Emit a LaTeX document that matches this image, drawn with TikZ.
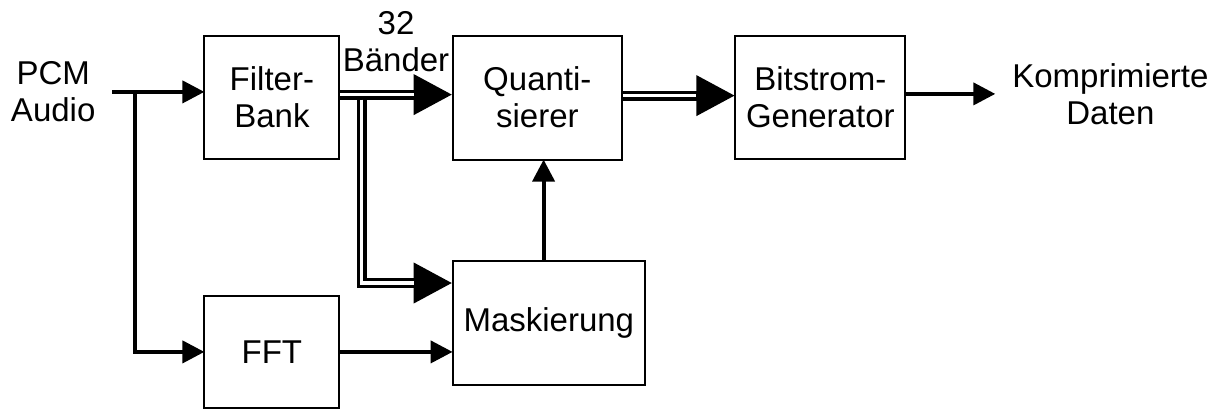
\documentclass[tikz,border=0pt]{standalone}
\usepackage{fontspec}
\setmainfont{Liberation Sans}
\usetikzlibrary{arrows.meta, positioning}

\begin{document}
\begin{tikzpicture}[font=\fontsize{16.5pt}{18.5pt}\selectfont, node distance=56.6pt,
  block/.style={draw, line width=1pt, outer sep=0pt, inner sep=0pt, minimum width=67.5pt, minimum height=61.5pt, align=center},
  io/.style={align=center, inner sep=5.5pt, outer sep=3pt},
  sig/.style={line width=2pt, -{Triangle[length=11pt,width=11pt]}},
  bus/.style={line width=5pt, -{Triangle[length=19.5pt,width=19pt]}, postaction={draw=white, line width=1.7pt, -, shorten >=19.5pt, shorten <=0.5pt}}]

\useasboundingbox (0,0) rectangle (609.5pt,-204pt);

% define the blocks
  \node[block] (fb) at (135.95pt,-48.8pt) {Filter-\\Bank};
  \node[block, minimum width=84.75pt, minimum height=62pt] (q) [right=of fb] {Quanti-\\sierer};
  \node[block, minimum width=85pt] (b) [right=of q] {Bitstrom-\\Generator};
  \node[block, minimum width=96.2pt, minimum height=62pt] (mask) [below right=50.9pt and 0pt of q.south west] {Maskierung};
  \node[block, minimum height=56pt] (fft) [below=68.4pt of fb] {FFT};

% define the in- and outputs
  \node[io] (in) [left=46pt of fb, yshift=2.85pt] {PCM\\Audio};
  \node[io] (out) [right=45pt of b, yshift=1.85pt] {Komprimierte\\Daten};
  \coordinate (tap) at ([xshift=11.15pt]in.east);
  \coordinate (split) at ([xshift=11.1pt,yshift=-0.5pt]fb.east);
  \coordinate (mtop) at ([xshift=45.5pt]mask.north west);

% define the links
  \draw[sig] (in.east) -- (in.east -| fb.west);
  \draw[sig] (tap) |- (fft.west);
  \draw[bus] ([yshift=1.5pt]fb.east) -- node[io, above=3pt] {32\\Bänder} ([yshift=1.5pt]q.west);
  \draw[bus] (split) |- ([yshift=-10.8pt]mask.north west);
  \draw[sig] (fft.east) -- (fft.east -| mask.west);
  \draw[sig] (mtop) -- (mtop |- q.south);
  \draw[bus] ([yshift=1pt]q.east) -- ([yshift=1pt]b.west);
  \draw[sig] ([yshift=1.85pt]b.east) -- (out.west);

\end{tikzpicture}
\end{document}
